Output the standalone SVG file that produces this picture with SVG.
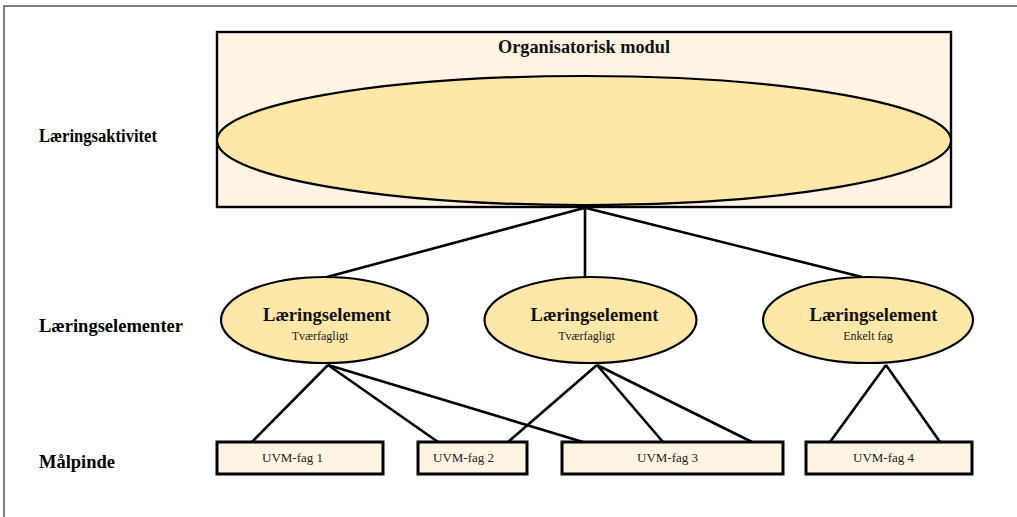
<svg xmlns="http://www.w3.org/2000/svg" width="1017" height="517" viewBox="0 0 1017 517">
  <style>
    .frame { fill: none; stroke: #7f7f7f; stroke-width: 2; }
    .box { fill: #fef4e3; stroke: #000; stroke-width: 2.4; }
    .fagbox { fill: #fef4e3; stroke: #000; stroke-width: 3; }
    .oval { fill: #fde7a9; stroke: #000; stroke-width: 2.2; }
    .link { stroke: #000; stroke-width: 2.6; fill: none; }
    .lbl { font-family: "Liberation Serif", serif; font-weight: bold; font-size: 18px; fill: #000; }
    .head { font-family: "Liberation Serif", serif; font-weight: bold; font-size: 18px; fill: #111; text-anchor: middle; }
    .sub { font-family: "Liberation Serif", serif; font-size: 12px; fill: #222; text-anchor: middle; }
    .fag { font-family: "Liberation Serif", serif; font-size: 13px; fill: #222; }
  </style>

  <rect width="1017" height="517" fill="#ffffff"/>
  <path class="frame" d="M4 517 V6 H1017"/>

  <!-- row labels -->
  <g id="row-labels">
    <text class="lbl" x="39" y="142" textLength="118" lengthAdjust="spacingAndGlyphs">Læringsaktivitet</text>
    <text class="lbl" x="39" y="332" textLength="144" lengthAdjust="spacingAndGlyphs">Læringselementer</text>
    <text class="lbl" x="39" y="468" textLength="76" lengthAdjust="spacingAndGlyphs">Målpinde</text>
  </g>

  <!-- connectors -->
  <g id="connectors">
    <line class="link" x1="584" y1="208" x2="327" y2="277"/>
    <line class="link" x1="585" y1="208" x2="585" y2="277"/>
    <line class="link" x1="586" y1="208" x2="862" y2="277"/>

    <line class="link" x1="328" y1="365" x2="252" y2="442"/>
    <line class="link" x1="328" y1="365" x2="438" y2="442"/>
    <line class="link" x1="328" y1="365" x2="583" y2="442"/>

    <line class="link" x1="597" y1="365" x2="508" y2="442"/>
    <line class="link" x1="597" y1="365" x2="663" y2="442"/>
    <line class="link" x1="597" y1="365" x2="752" y2="442"/>

    <line class="link" x1="886" y1="365" x2="830" y2="442"/>
    <line class="link" x1="886" y1="365" x2="940" y2="442"/>
  </g>

  <!-- organisational module with its learning activity -->
  <g id="modul">
    <rect class="box" x="217" y="32" width="734" height="175"/>
    <text class="head" x="584" y="53" textLength="172" lengthAdjust="spacingAndGlyphs">Organisatorisk modul</text>
    <ellipse class="oval" cx="584" cy="140.5" rx="367" ry="64.5"/>
  </g>

  <!-- learning elements -->
  <g id="element-1">
    <ellipse class="oval" cx="324.5" cy="320" rx="103.5" ry="43"/>
    <text class="head" x="327" y="321" textLength="128" lengthAdjust="spacingAndGlyphs">Læringselement</text>
    <text class="sub" x="320" y="340">Tværfagligt</text>
  </g>
  <g id="element-2">
    <ellipse class="oval" cx="590.5" cy="320" rx="106" ry="43"/>
    <text class="head" x="594.5" y="321" textLength="128" lengthAdjust="spacingAndGlyphs">Læringselement</text>
    <text class="sub" x="586.5" y="340">Tværfagligt</text>
  </g>
  <g id="element-3">
    <ellipse class="oval" cx="868" cy="320" rx="105" ry="43"/>
    <text class="head" x="873.5" y="321" textLength="128" lengthAdjust="spacingAndGlyphs">Læringselement</text>
    <text class="sub" x="868" y="340">Enkelt fag</text>
  </g>

  <!-- target subjects -->
  <g id="fag-1">
    <rect class="fagbox" x="217" y="442" width="166" height="32"/>
    <text class="fag" x="262" y="462">UVM-fag 1</text>
  </g>
  <g id="fag-2">
    <rect class="fagbox" x="418" y="442" width="109" height="32"/>
    <text class="fag" x="433" y="462">UVM-fag 2</text>
  </g>
  <g id="fag-3">
    <rect class="fagbox" x="562" y="442" width="221" height="32"/>
    <text class="fag" x="637" y="462">UVM-fag 3</text>
  </g>
  <g id="fag-4">
    <rect class="fagbox" x="806" y="442" width="166" height="32"/>
    <text class="fag" x="853" y="462">UVM-fag 4</text>
  </g>
</svg>
